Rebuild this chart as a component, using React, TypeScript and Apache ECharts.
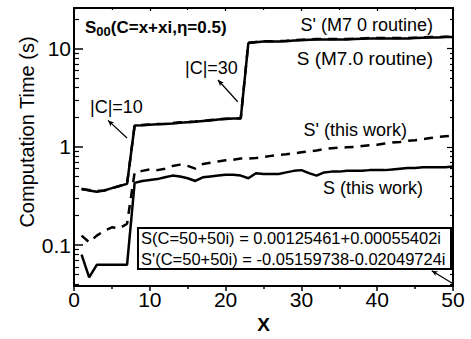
import React, { useEffect, useRef } from "react";
import * as echarts from "echarts";

const xs = [1, 2, 3, 4, 5, 6, 7, 8, 9, 10, 11, 12, 13, 14, 15, 16, 17, 18, 19, 20, 21, 22, 23, 24, 25, 26, 27, 28, 29, 30, 31, 32, 33, 34, 35, 36, 37, 38, 39, 40, 41, 42, 43, 44, 45, 46, 47, 48, 49, 50];

const sM7 = [0.375, 0.36, 0.35, 0.36, 0.38, 0.4, 0.42, 1.65, 1.66, 1.68, 1.7, 1.71, 1.73, 1.76, 1.78, 1.8, 1.83, 1.86, 1.9, 1.92, 1.94, 1.95, 11.4, 11.6, 11.8, 11.8, 11.8, 11.9, 12.1, 12.2, 12.3, 12.4, 12.4, 12.4, 12.4, 12.4, 12.5, 12.6, 12.7, 12.7, 12.7, 12.7, 12.7, 12.7, 12.8, 12.9, 13.0, 13.0, 13.1, 13.1];

const sPrimeM7 = [0.37, 0.365, 0.355, 0.36, 0.38, 0.4, 0.42, 1.66, 1.67, 1.69, 1.71, 1.72, 1.75, 1.78, 1.79, 1.81, 1.84, 1.88, 1.91, 1.93, 1.95, 1.96, 11.5, 11.7, 11.9, 11.9, 11.9, 12.0, 12.2, 12.3, 12.4, 12.5, 12.5, 12.5, 12.5, 12.5, 12.6, 12.7, 12.8, 12.8, 12.8, 12.8, 12.8, 12.8, 12.9, 13.0, 13.1, 13.1, 13.2, 13.2];

const sThis = [0.08, 0.047, 0.063, 0.063, 0.063, 0.063, 0.063, 0.43, 0.45, 0.46, 0.47, 0.49, 0.51, 0.5, 0.48, 0.45, 0.49, 0.5, 0.51, 0.52, 0.52, 0.51, 0.48, 0.54, 0.53, 0.53, 0.53, 0.55, 0.57, 0.58, 0.54, 0.51, 0.55, 0.56, 0.56, 0.57, 0.57, 0.57, 0.58, 0.58, 0.58, 0.59, 0.6, 0.61, 0.61, 0.62, 0.62, 0.62, 0.62, 0.63];

const sPrimeThis = [0.125, 0.107, 0.125, 0.14, 0.152, 0.148, 0.165, 0.55, 0.57, 0.59, 0.58, 0.6, 0.64, 0.66, 0.64, 0.6, 0.67, 0.69, 0.71, 0.73, 0.74, 0.76, 0.76, 0.77, 0.79, 0.81, 0.83, 0.84, 0.86, 0.88, 0.9, 0.92, 0.95, 0.97, 0.98, 0.99, 1.0, 1.02, 1.04, 1.05, 1.08, 1.11, 1.12, 1.15, 1.17, 1.2, 1.23, 1.26, 1.28, 1.3];

const yMajorTicks = [0.1, 1, 10];
const yMinorTicks = [0.04, 0.05, 0.06, 0.07, 0.08, 0.09, 0.2, 0.3, 0.4, 0.5, 0.6, 0.7, 0.8, 0.9, 2, 3, 4, 5, 6, 7, 8, 9, 20];
const yMin = 0.0383;
const yMax = 25.9;

// arrow annotations in data coordinates: [from, to]
const arrows = [
  [[4.49, 1.86], [7.0, 1.23]],
  [[19.0, 4.79], [21.6, 2.88]],
  [[47.2, 0.055], [49.9, 0.041]],
];

const FONT = "'Liberation Sans', Arial, sans-serif";

export default function App() {
  const ref = useRef<HTMLDivElement>(null);
  useEffect(() => {
    if (!ref.current) return;
    const chart = echarts.init(ref.current, null, { renderer: "svg" });
    const pairs = (vals: number[]) => xs.map((x, i) => [x, vals[i]]);
    const baseY = {
      type: "log" as const,
      min: yMin,
      max: yMax,
      logBase: 10,
      splitLine: { show: false },
      minorTick: { show: false },
      minorSplitLine: { show: false },
    };
    const option: any = {
      animation: false,
      backgroundColor: "#fff",
      textStyle: { fontFamily: FONT },
      grid: { left: 74, right: 18, top: 8, bottom: 48, show: true, borderColor: "#000", borderWidth: 2, containLabel: false },
      xAxis: [
        {
          type: "value", min: 0, max: 50, interval: 10, position: "bottom",
          axisLine: { show: true, lineStyle: { color: "#000", width: 2 } },
          axisTick: { show: true, inside: false, length: 5, lineStyle: { color: "#000", width: 1.5 } },
          minorTick: { show: true, splitNumber: 2, length: 3, lineStyle: { color: "#000", width: 1.5 } },
          splitLine: { show: false },
          axisLabel: { fontSize: 21, color: "#000", margin: 3, fontFamily: FONT },
          name: "X", nameLocation: "middle", nameGap: 28,
          nameTextStyle: { fontSize: 19, color: "#000", fontFamily: FONT, fontWeight: "bold" },
        },
        {
          type: "value", min: 0, max: 50, interval: 10, position: "top",
          axisLine: { show: true, lineStyle: { color: "#000", width: 2 } },
          axisTick: { show: true, inside: true, length: 3, lineStyle: { color: "#000", width: 1.2 } },
          minorTick: { show: true, splitNumber: 2, length: 2, lineStyle: { color: "#000", width: 1.2 } },
          splitLine: { show: false },
          axisLabel: { show: false },
        },
      ],
      yAxis: [
        {
          ...baseY, position: "left",
          axisLine: { show: true, lineStyle: { color: "#000", width: 2 } },
          axisTick: { show: true, inside: true, length: 9, customValues: yMajorTicks, lineStyle: { color: "#000", width: 1.5 } },
          axisLabel: {
            show: true, customValues: yMajorTicks, fontSize: 21, color: "#000", margin: 3, fontFamily: FONT,
            formatter: (v: number) => (v < 1 ? String(v) : String(Math.round(v))),
          },
        },
        {
          ...baseY, position: "left",
          axisLine: { show: false },
          axisTick: { show: true, inside: true, length: 5, customValues: yMinorTicks, lineStyle: { color: "#000", width: 1.2 } },
          axisLabel: { show: false },
        },
        {
          ...baseY, position: "right",
          axisLine: { show: true, lineStyle: { color: "#000", width: 2 } },
          axisTick: { show: true, inside: true, length: 6, customValues: yMajorTicks, lineStyle: { color: "#000", width: 1.2 } },
          axisLabel: { show: false },
        },
        {
          ...baseY, position: "right",
          axisLine: { show: false },
          axisTick: { show: true, inside: true, length: 3, customValues: yMinorTicks, lineStyle: { color: "#000", width: 1.2 } },
          axisLabel: { show: false },
        },
      ],
      series: [
        {
          name: "S (M7.0 routine)", type: "line", data: pairs(sM7), showSymbol: false, symbol: "none",
          lineStyle: { color: "#000", width: 2.5 },
          markLine: {
            silent: true, symbol: ["arrow", "none"], symbolSize: [4, 6], label: { show: false },
            lineStyle: { color: "#000", width: 1.2, type: "solid" },
            data: arrows.map(([a, b]) => [{ coord: a }, { coord: b }]),
          },
        },
        {
          name: "S' (M7.0 routine)", type: "line", data: pairs(sPrimeM7), showSymbol: false, symbol: "none",
          lineStyle: { color: "#000", width: 2.5, type: [9, 7] },
        },
        {
          name: "S (this work)", type: "line", data: pairs(sThis), showSymbol: false, symbol: "none",
          lineStyle: { color: "#000", width: 2.5 },
        },
        {
          name: "S' (this work)", type: "line", data: pairs(sPrimeThis), showSymbol: false, symbol: "none",
          lineStyle: { color: "#000", width: 2.5, type: [9, 7] },
        },
      ],
      graphic: [
        {
          type: "text", x: 27, y: 132, rotation: Math.PI / 2,
          style: { text: "Computation Time (s)", fontSize: 20, fontFamily: FONT, fill: "#000", align: "center", verticalAlign: "middle" },
        },
        {
          type: "text", x: 85, y: 27,
          style: {
            text: "{a|S}{b|00}{a|(C=x+xi,η=0.5)}",
            fontFamily: FONT, fill: "#000", verticalAlign: "middle",
            rich: {
              a: { fontSize: 17, fontWeight: "bold", fontFamily: FONT, fill: "#000" },
              b: { fontSize: 13, fontWeight: "bold", fontFamily: FONT, fill: "#000", padding: [8, 0, 0, 0] },
            },
          },
        },
        { type: "text", x: 433, y: 25, style: { text: "S' (M7 0 routine)", fontSize: 18, fontFamily: FONT, fill: "#000", align: "right", verticalAlign: "middle" } },
        { type: "text", x: 433, y: 58, style: { text: "S (M7.0 routine)", fontSize: 19, fontFamily: FONT, fill: "#000", align: "right", verticalAlign: "middle" } },
        { type: "text", x: 185, y: 68, style: { text: "|C|=30", fontSize: 18, fontFamily: FONT, fill: "#000", align: "left", verticalAlign: "middle" } },
        { type: "text", x: 90, y: 107, style: { text: "|C|=10", fontSize: 18, fontFamily: FONT, fill: "#000", align: "left", verticalAlign: "middle" } },
        { type: "text", x: 407, y: 130, style: { text: "S' (this work)", fontSize: 18, fontFamily: FONT, fill: "#000", align: "right", verticalAlign: "middle" } },
        { type: "text", x: 423, y: 188, style: { text: "S (this work)", fontSize: 18, fontFamily: FONT, fill: "#000", align: "right", verticalAlign: "middle" } },
        {
          type: "rect", shape: { x: 138, y: 228, width: 313, height: 41 },
          style: { fill: "#fff", stroke: "#000", lineWidth: 2 }, z: 10,
        },
        { type: "text", x: 141, y: 238, z: 11, style: { text: "S(C=50+50i) = 0.00125461+0.00055402i", fontSize: 16.5, fontFamily: FONT, fill: "#000", align: "left", verticalAlign: "middle" } },
        { type: "text", x: 141, y: 259, z: 11, style: { text: "S'(C=50+50i) = -0.05159738-0.02049724i", fontSize: 16.5, fontFamily: FONT, fill: "#000", align: "left", verticalAlign: "middle" } },
      ],
    };
    chart.setOption(option);
    return () => chart.dispose();
  }, []);
  return <div ref={ref} style={{ position: "fixed", left: 0, top: 0, width: 471, height: 339 }} />;
}
